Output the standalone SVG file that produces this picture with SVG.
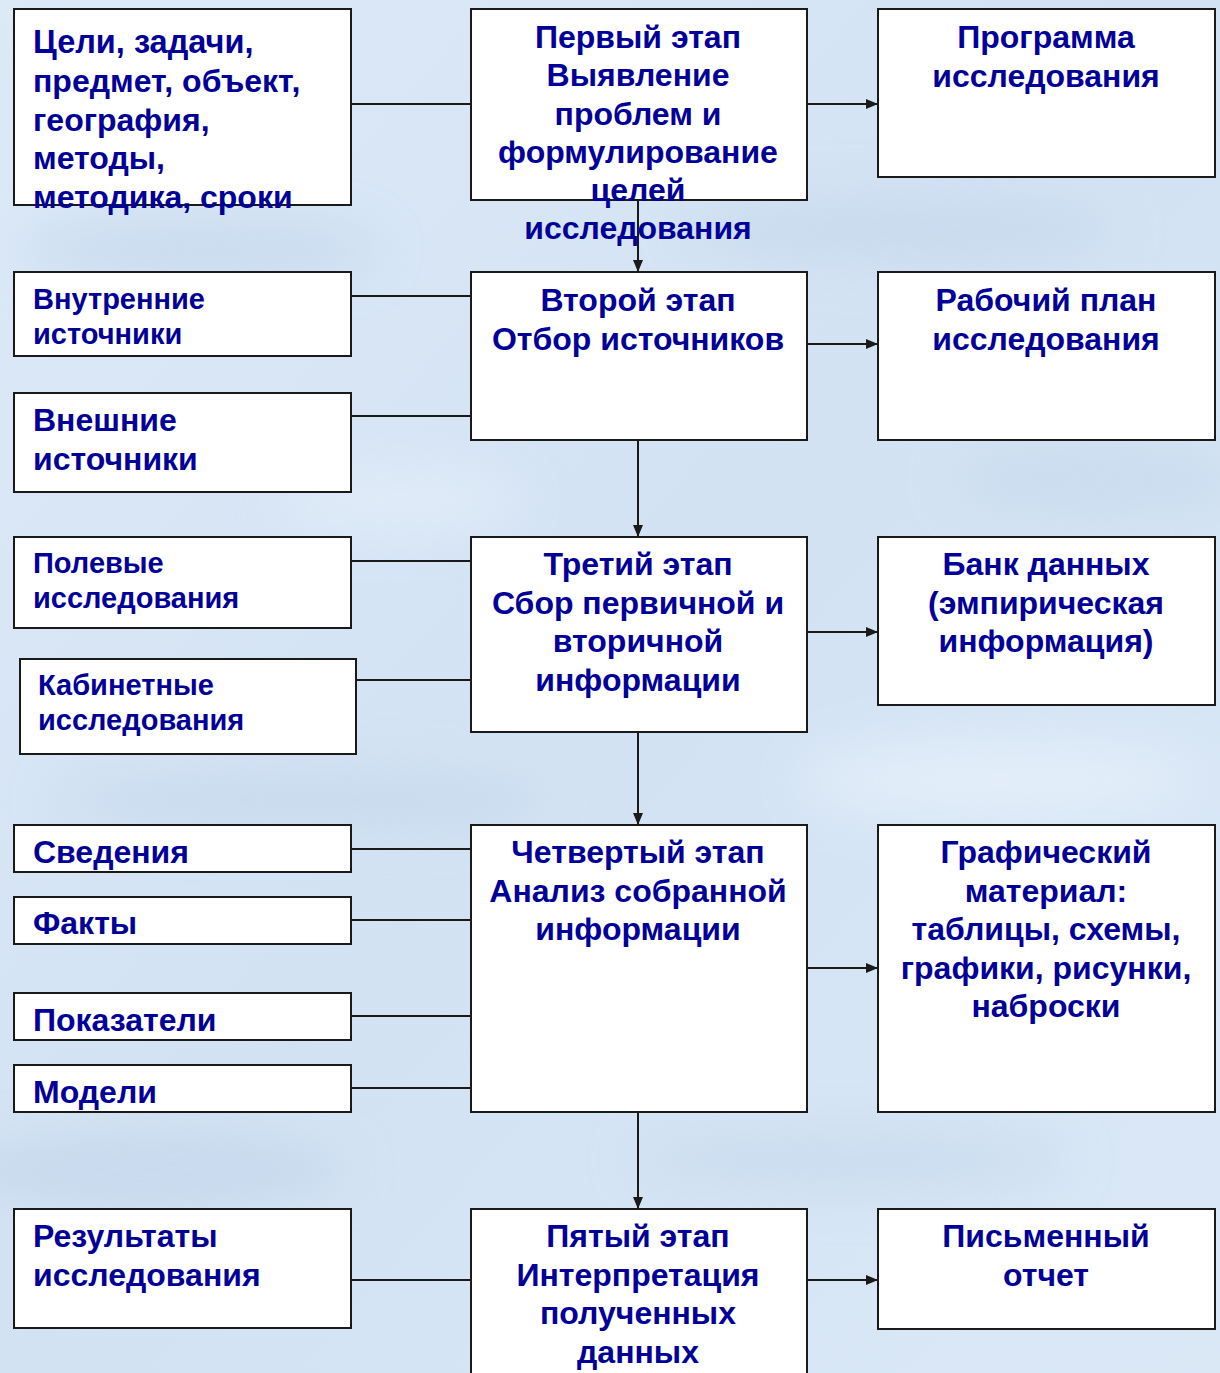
<svg xmlns="http://www.w3.org/2000/svg" width="1220" height="1373" viewBox="0 0 1220 1373">
<defs>
<style>
.box{fill:#ffffff;stroke:#1a1a1a;stroke-width:2}
.t{font-family:"Liberation Sans",Arial,sans-serif;font-weight:bold;fill:#000099;font-size:32px}
.s{font-size:29px}
.c{text-anchor:middle}
.ln{stroke:#1a1a1a;stroke-width:2;fill:none}
</style>
<marker id="ah" viewBox="0 0 12 10" refX="12" refY="5" markerWidth="12" markerHeight="10" markerUnits="userSpaceOnUse" orient="auto">
<path d="M0,0 L12,5 L0,10 z" fill="#1a1a1a"/>
</marker>
<filter id="blur" x="-50%" y="-50%" width="200%" height="200%"><feGaussianBlur stdDeviation="25"/></filter>
<linearGradient id="bg" x1="0" y1="0" x2="1" y2="1">
<stop offset="0" stop-color="#dce9f7"/>
<stop offset="0.5" stop-color="#d3e2f3"/>
<stop offset="1" stop-color="#dae8f6"/>
</linearGradient>
</defs>
<rect width="1220" height="1373" fill="url(#bg)"/>
<g filter="url(#blur)" opacity="0.7">
<ellipse cx="200" cy="250" rx="180" ry="30" fill="#c3d6ec"/>
<ellipse cx="900" cy="230" rx="220" ry="35" fill="#c6d8ed"/>
<ellipse cx="300" cy="800" rx="250" ry="30" fill="#c4d7ec"/>
<ellipse cx="1000" cy="780" rx="200" ry="40" fill="#e8f2fb"/>
<ellipse cx="150" cy="1170" rx="200" ry="35" fill="#c2d5eb"/>
<ellipse cx="850" cy="1160" rx="220" ry="30" fill="#c6d8ed"/>
<ellipse cx="400" cy="500" rx="120" ry="30" fill="#e6f0fa"/>
<ellipse cx="1100" cy="480" rx="150" ry="40" fill="#c8daee"/>
</g>

<g id="connectors">
<line class="ln" x1="351" y1="104" x2="471" y2="104"/>
<line class="ln" x1="351" y1="296" x2="471" y2="296"/>
<line class="ln" x1="351" y1="416" x2="471" y2="416"/>
<line class="ln" x1="351" y1="561" x2="471" y2="561"/>
<line class="ln" x1="356" y1="680" x2="471" y2="680"/>
<line class="ln" x1="351" y1="849" x2="471" y2="849"/>
<line class="ln" x1="351" y1="920" x2="471" y2="920"/>
<line class="ln" x1="351" y1="1016" x2="471" y2="1016"/>
<line class="ln" x1="351" y1="1088" x2="471" y2="1088"/>
<line class="ln" x1="351" y1="1280" x2="471" y2="1280"/>
<line class="ln" x1="807" y1="104" x2="878" y2="104" marker-end="url(#ah)"/>
<line class="ln" x1="807" y1="344" x2="878" y2="344" marker-end="url(#ah)"/>
<line class="ln" x1="807" y1="632" x2="878" y2="632" marker-end="url(#ah)"/>
<line class="ln" x1="807" y1="968" x2="878" y2="968" marker-end="url(#ah)"/>
<line class="ln" x1="807" y1="1280" x2="878" y2="1280" marker-end="url(#ah)"/>
<line class="ln" x1="638" y1="200" x2="638" y2="272" marker-end="url(#ah)"/>
<line class="ln" x1="638" y1="440" x2="638" y2="537" marker-end="url(#ah)"/>
<line class="ln" x1="638" y1="732" x2="638" y2="825" marker-end="url(#ah)"/>
<line class="ln" x1="638" y1="1112" x2="638" y2="1209" marker-end="url(#ah)"/>
</g>

<g id="n-goals">
<rect class="box" x="14" y="9" width="337" height="196"/>
<text class="t" x="33" y="53"><tspan font-size="32.5">Цели, задачи,</tspan><tspan x="33" y="92">предмет, объект,</tspan><tspan x="33" y="131">география,</tspan><tspan x="33" y="169">методы,</tspan><tspan x="33" y="208">методика, сроки</tspan></text>
</g>
<g id="n-stage1">
<rect class="box" x="471" y="9" width="336" height="191"/>
<text class="t c" x="638" y="48">Первый этап<tspan x="638" y="86">Выявление</tspan><tspan x="638" y="125">проблем и</tspan><tspan x="638" y="163">формулирование</tspan><tspan x="638" y="201">целей</tspan><tspan x="638" y="239">исследования</tspan></text>
</g>
<g id="n-program">
<rect class="box" x="878" y="9" width="337" height="168"/>
<text class="t c" x="1046" y="48">Программа<tspan x="1046" y="87">исследования</tspan></text>
</g>

<g id="n-internal">
<rect class="box" x="14" y="272" width="337" height="84"/>
<text class="t s" x="33" y="309">Внутренние<tspan x="33" y="344">источники</tspan></text>
</g>
<g id="n-external">
<rect class="box" x="14" y="393" width="337" height="99"/>
<text class="t" x="33" y="431">Внешние<tspan x="33" y="470">источники</tspan></text>
</g>
<g id="n-stage2">
<rect class="box" x="471" y="272" width="336" height="168"/>
<text class="t c" x="638" y="311">Второй этап<tspan x="638" y="350">Отбор источников</tspan></text>
</g>
<g id="n-workplan">
<rect class="box" x="878" y="272" width="337" height="168"/>
<text class="t c" x="1046" y="311">Рабочий план<tspan x="1046" y="350">исследования</tspan></text>
</g>

<g id="n-field">
<rect class="box" x="14" y="537" width="337" height="91"/>
<text class="t s" x="33" y="573">Полевые<tspan x="33" y="608">исследования</tspan></text>
</g>
<g id="n-desk">
<rect class="box" x="20" y="659" width="336" height="95"/>
<text class="t s" x="38" y="695">Кабинетные<tspan x="38" y="730">исследования</tspan></text>
</g>
<g id="n-stage3">
<rect class="box" x="471" y="537" width="336" height="195"/>
<text class="t c" x="638" y="575">Третий этап<tspan x="638" y="614">Сбор первичной и</tspan><tspan x="638" y="652">вторичной</tspan><tspan x="638" y="691">информации</tspan></text>
</g>
<g id="n-databank">
<rect class="box" x="878" y="537" width="337" height="168"/>
<text class="t c" x="1046" y="575">Банк данных<tspan x="1046" y="614">(эмпирическая</tspan><tspan x="1046" y="652">информация)</tspan></text>
</g>

<g id="n-info">
<rect class="box" x="14" y="825" width="337" height="47"/>
<text class="t" x="33" y="863">Сведения</text>
</g>
<g id="n-facts">
<rect class="box" x="14" y="897" width="337" height="47"/>
<text class="t" x="33" y="934">Факты</text>
</g>
<g id="n-indicators">
<rect class="box" x="14" y="993" width="337" height="47"/>
<text class="t" x="33" y="1031">Показатели</text>
</g>
<g id="n-models">
<rect class="box" x="14" y="1065" width="337" height="47"/>
<text class="t" x="33" y="1103">Модели</text>
</g>
<g id="n-stage4">
<rect class="box" x="471" y="825" width="336" height="287"/>
<text class="t c" x="638" y="863">Четвертый этап<tspan x="638" y="902">Анализ собранной</tspan><tspan x="638" y="940">информации</tspan></text>
</g>
<g id="n-graphics">
<rect class="box" x="878" y="825" width="337" height="287"/>
<text class="t c" x="1046" y="863">Графический<tspan x="1046" y="902">материал:</tspan><tspan x="1046" y="940">таблицы, схемы,</tspan><tspan x="1046" y="979">графики, рисунки,</tspan><tspan x="1046" y="1017">наброски</tspan></text>
</g>

<g id="n-results">
<rect class="box" x="14" y="1209" width="337" height="119"/>
<text class="t" x="33" y="1247">Результаты<tspan x="33" y="1286">исследования</tspan></text>
</g>
<g id="n-stage5">
<rect class="box" x="471" y="1209" width="336" height="180"/>
<text class="t c" x="638" y="1247">Пятый этап<tspan x="638" y="1286">Интерпретация</tspan><tspan x="638" y="1324">полученных</tspan><tspan x="638" y="1363">данных</tspan></text>
</g>
<g id="n-report">
<rect class="box" x="878" y="1209" width="337" height="120"/>
<text class="t c" x="1046" y="1247">Письменный<tspan x="1046" y="1286">отчет</tspan></text>
</g>
</svg>
